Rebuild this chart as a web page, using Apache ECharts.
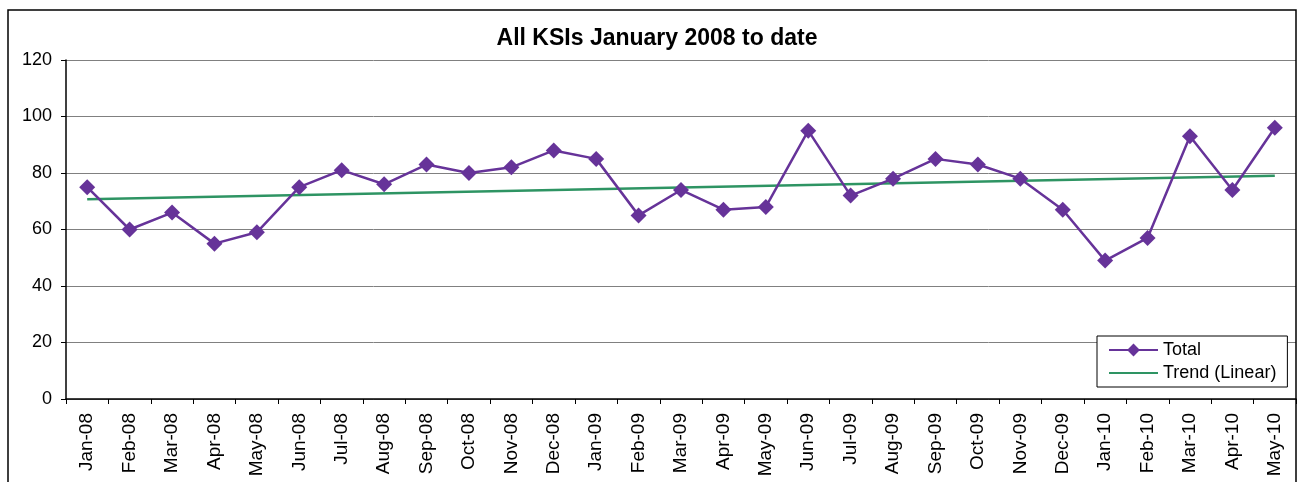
<!DOCTYPE html>
<html>
<head>
<meta charset="utf-8">
<script src="https://cdn.jsdelivr.net/npm/echarts@6/dist/echarts.min.js"></script>
<style>
  html, body { margin: 0; padding: 0; background: #fff; }
  #mChart { width: 1300px; height: 482px; }
</style>
</head>
<body>
<div id="mChart"></div>
<script>
  // month labels along the bottom
  var months = ['Jan-08','Feb-08','Mar-08','Apr-08','May-08','Jun-08','Jul-08','Aug-08','Sep-08','Oct-08','Nov-08','Dec-08',
    'Jan-09','Feb-09','Mar-09','Apr-09','May-09','Jun-09','Jul-09','Aug-09','Sep-09','Oct-09','Nov-09','Dec-09',
    'Jan-10','Feb-10','Mar-10','Apr-10','May-10'];
  // KSI totals per month
  var totals = [75, 60, 66, 55, 59, 75, 81, 76, 83, 80, 82, 88,
    85, 65, 74, 67, 68, 95, 72, 78, 85, 83, 78, 67,
    49, 57, 93, 74, 96];
  // linear trend, read at first and last month
  var trendEnds = [70.7, 79.0];
  var yTicks = [0, 20, 40, 60, 80, 100, 120];

  var trend = months.map(function (m, i) {
    if (i === 0) return trendEnds[0];
    if (i === months.length - 1) return trendEnds[1];
    return null;
  });

  var font = 'Liberation Sans, Arial, sans-serif';
  var myChart = echarts.init(document.getElementById('mChart'));
  myChart.setOption({
    animation: false,
    title: {
      text: 'All KSIs January 2008 to date',
      left: 657,
      top: 27,
      padding: 0,
      textAlign: 'center',
      textStyle: { fontFamily: font, fontSize: 23, fontWeight: 'bold', color: '#000' }
    },
    graphic: [{
      type: 'rect',
      shape: { x: 8, y: 10, width: 1288, height: 490 },
      style: { fill: 'none', stroke: '#000', lineWidth: 1.5 },
      z: 100
    }],
    legend: {
      orient: 'vertical',
      left: 1097,
      top: 336,
      padding: [5, 11, 5, 11],
      itemGap: 5,
      itemWidth: 49,
      itemHeight: 16,
      backgroundColor: '#fff',
      borderColor: '#000',
      borderWidth: 1,
      textStyle: { fontFamily: font, fontSize: 18, color: '#000' },
      data: [
        { name: 'Total' },
        { name: 'Trend (Linear)', itemStyle: { opacity: 0 } }
      ]
    },
    grid: { left: 66, right: 4, top: 60, bottom: 83 },
    xAxis: {
      type: 'category',
      data: months,
      boundaryGap: true,
      axisLine: { lineStyle: { color: '#000', width: 1.5 } },
      axisTick: { show: true, length: 5, lineStyle: { color: '#000' } },
      axisLabel: { rotate: 90, margin: 14, interval: 0, fontFamily: font, fontSize: 19, color: '#000' }
    },
    yAxis: {
      type: 'value',
      min: yTicks[0],
      max: yTicks[yTicks.length - 1],
      interval: 20,
      axisLine: { show: true, lineStyle: { color: '#000', width: 1.5 } },
      axisTick: { show: true, length: 5, lineStyle: { color: '#000' } },
      axisLabel: { margin: 14, fontFamily: font, fontSize: 18, color: '#000' },
      splitLine: { lineStyle: { color: '#808080', width: 1 } }
    },
    series: [
      {
        name: 'Total',
        type: 'line',
        data: totals,
        symbol: 'diamond',
        symbolSize: 16,
        lineStyle: { color: '#663399', width: 2.5 },
        itemStyle: { color: '#663399' },
        z: 3
      },
      {
        name: 'Trend (Linear)',
        type: 'line',
        data: trend,
        connectNulls: true,
        symbol: 'none',
        showSymbol: false,
        lineStyle: { color: '#2e9463', width: 2.5 },
        itemStyle: { color: '#2e9463' },
        z: 2
      }
    ]
  });
</script>
</body>
</html>
